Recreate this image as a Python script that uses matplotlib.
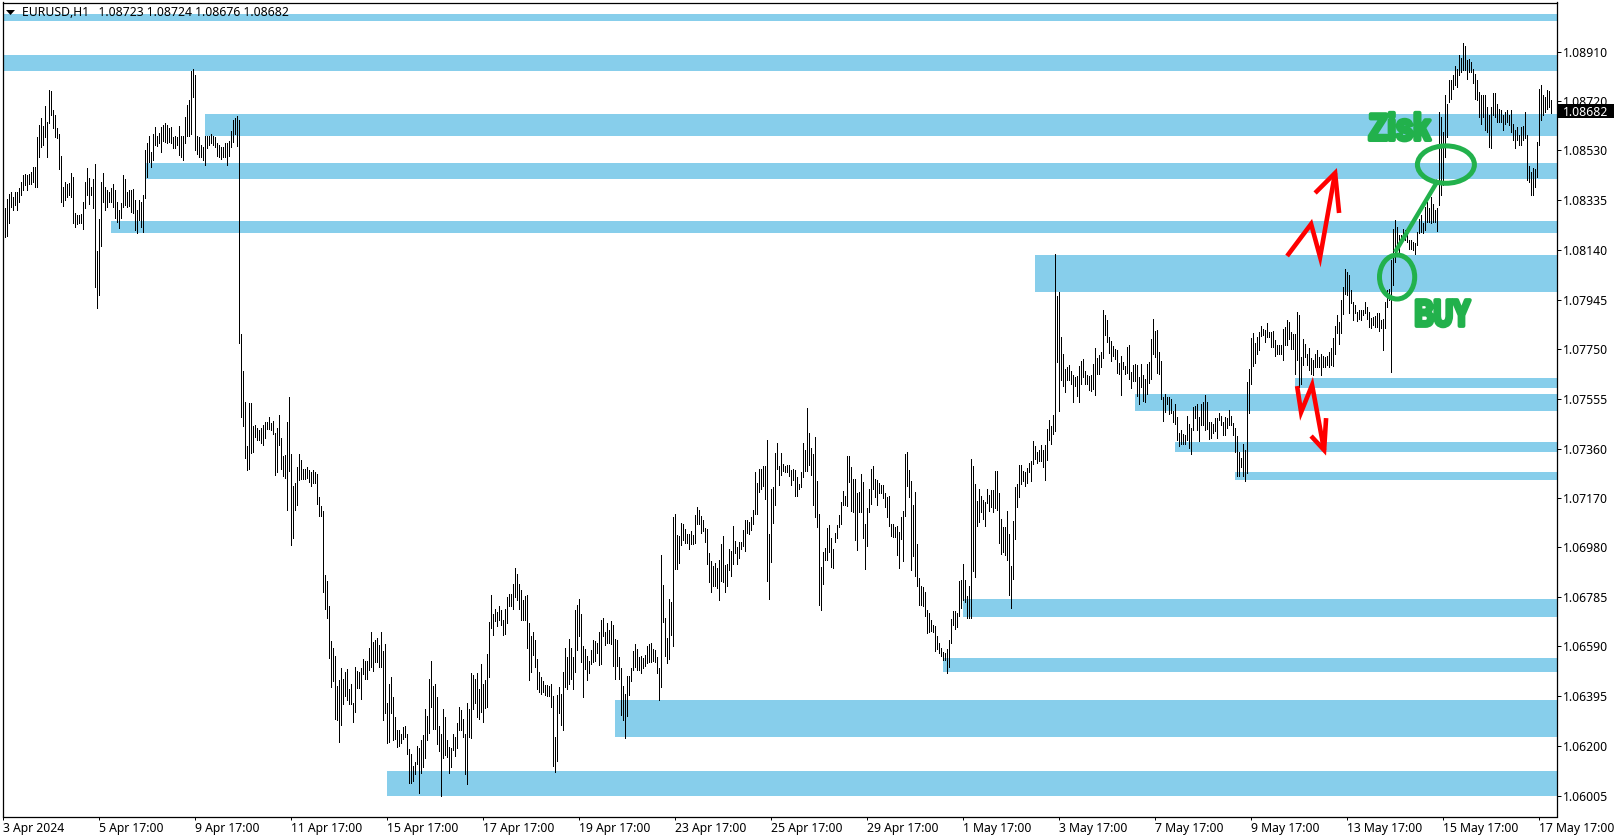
import numpy as np
import matplotlib
matplotlib.use("Agg")
import matplotlib.pyplot as plt
from matplotlib.patches import Ellipse, Rectangle, Polygon
from matplotlib.transforms import Affine2D
import matplotlib.patheffects as pe

BASE = 1.06005
CURRENT = 1.08682
TITLE = "EURUSD,H1   1.08723 1.08724 1.08676 1.08682"

# hourly bar highs and lows, in pips above BASE
high_a = [223,229.6,233.4,235.4,236,234,236,236,237.4,240,242.6,243,242.6,243,243.9,245.8,245.8,257.5,262,265,261.7,269.5,263.4,275.8,275.5,268,266,261,258.8,250,238,240,239,239.5,243.5,242,227.6,227,227,227.3,232,240,245.5,241.6,238,241,247,213,225.6,240,243.6,238,236.7,236,237.4,239,236.7,232,229,231.8,242.6,241,236,236.7,236.7,237,232.8,229,233,232,234.8,252.3,255,258,251.7,258.6,261.4,258,259,261.4,262,263,262,261,261.4,257.5,257.8,257.5,261.7,257.8,257.8,265.3,269.9,272,283.3,284,281.6,258,257.5,254.5,253.6,258,258,258,258.8,258,257.5,255,254.3,253.6,253.6,255,255,256,259.7,264.3,265,265.6,264]
low_a = [187,218.5,219,224,230,229,231,229,232,235,236.7,238.7,236.7,239,239.3,240,238,238,249.7,253.6,254.3,257.5,249.7,263,266,261,257.5,257,245,232,230.5,233,234,234.8,234,224,222.4,223.4,223.7,224,221.7,229.6,234.8,231.5,234.8,229.6,199,190.5,195.7,214.8,232,229,230,232,232,230,226,224.3,222,226,230,231,230,230.5,228,227.6,221,220,225,222.4,220.4,233.5,242,247.8,245.8,248.4,254.3,254,255,251.7,256,255.6,255,255.6,255,253,253,254.3,250.4,249.7,248.4,255,258,258,258.8,273,252.3,251,249.7,249.7,248.4,246.5,253,254.3,255,254.3,253.6,250,249.7,249,249.7,249.7,246.5,250,253.6,255.6,258.8,254,177]
high_b = [180.5,166,153.9,136.8,153.5,153.5,144.6,145,143.7,143,144,145,146,146.3,148,145.6,146.6,141.7,143.7,148.9,139.8,132.9,133.3,146.3,155.8,133.7,121,122.5,128.7,133.7,131.3,128,128,128.7,127.4,126.8,127.4,126.5,125.9,116.8,113.4,111.4,86.4,84]
low_b = [148,144.6,132,127.4,127.8,134,134.6,140.4,139,139,137.8,137,140,143.4,143.4,143,141.5,125.5,126.8,137,127.8,125,124.4,112,127,98,100.7,112,113.8,123.5,124,124,124,124.4,122.6,121.3,122.2,122.2,114,109.6,109.6,79.9,73.3,69.5]
high_c = [74.2,60.6,58,54.7,43,45.3,50,45.7,48.5,49.6,41.8,43.8,36.6,50.5,48.8,48.5,50,53.8,52.8,53,58,64,60.3,61,61.7,59,64,56.7,59.6,36.6,44,46.4,38.6,31,26,26,24.5,26.9,27.6,24.5,18.3,16.7,11.8,13.2,19.6,19,22,23.9,34,31.3,46,52.8,43,43.8,38.6,27.4,24.5,34,30.8,21.9,19.3,18.7,24.2,23,28.8,34.7,33.6,30,24.2,36.6,34,48,47.5,45.7,48,41.8,51.8,43.8,45.3,55.5,67.9,78.5,71,73,71.8,74.2,72.7,69,73,78,79,79,83,89.3,87,83,80.5,76.6,78.3,78.8,67.5,62.5,64,61,53.8,48.5,46.6,45,43.6,43.4,43,43.8,39.2,23,39.5,42.7,39.9,48.5,58,54.4,61.3,58,54.4,72.7,74.6,77,71,58.6,57.4,54.7,53,57,61,60.7,60,64,68.8,69.5,64,67.5,65,68.4,66.8,61.3,61,54.4,50,43,39.9,46.9,47,50,56.7,59.6,57.7,54.4]
low_c = [54,42.7,45,30,29.7,21.3,27.8,36,39,37.8,36,36,29,33,42.3,42.3,38,47.7,46,45.7,49.2,50.5,49,52.5,52.5,50.5,50.5,29.7,32.6,20.9,21.3,32.6,21.9,22.3,19.3,19.7,20.9,22.3,23.2,16.7,5.2,5.2,6,8.6,12.5,1.3,9.2,11.5,14.9,21.9,24.8,34.9,26.2,26.2,20.3,17.7,0,14.9,16,15.4,9,11.5,18,15.7,18.7,25.8,25.8,23.2,8.6,4.7,23,22.7,34,36.6,31,30,33,29,34.5,35,46.6,65.6,63,68.5,66.4,69,66.8,63,63.3,67.7,74.4,74.2,73.3,78,76.8,73.3,68.8,68.8,68.8,58,45.3,48.6,55,50.5,41.8,40.8,39.9,40.8,39.5,39.2,39,35,12,9.5,13.8,32.6,28,25.8,42.7,41.8,43.8,45.7,41.8,48.6,57.3,62.6,52.5,38.8,49.6,45.3,48.3,51.6,52.5,52.8,56,51.4,51.8,62.5,59,60,60,59.6,51,46,51,46,31.7,29.7,22.8,31.4,39.5,45,49.2,50.5,49.2,49.2]
high_d = [54.7,54,55,58.6,59.3,60,57.7,57.3,54.5,50.2,94.2,82.5,69.8,62,76.9,75.7,109,110.4,102.2,101.6,106.9,106.5,104.2,102.4,102.4,103.7,102.2,109.8,113,112,109.4,107.8,104.6,104.3,95.2,91.8,89.9,91,89.2,92.2,98.5,101.6,90.3,90.9,96.5,95.9,105.5,99.6,97.2,99.4,99.4,103.9,107.8,107.8,107.2,109,112,126.5,122.5,128,127.8,128.9,128.9,139,102.6,120,120.6,133.9,137.8,128.9,133.9,129.7,128.9,129.3,129.3,127.6,128,127.4,124.8,122,126.6,137.8,135.4,151.8,142,136.2,133.6,140.4,123,110.4,89.6,95.3,96.8,104.6,106.1,100.9,96.5,102.9,105.9,109.8,115,119.2,117.2,133,132.8,128.7,123.9,123.9,118.5,118.8,126,122.8,106.3,112.7,120,128,128.9,124.1,123.5,122.2,121.5,121.5,118.3,117,117.2,106.5,106.5,105.2,105.5,103.3,109,111.4,133.6,134.3,127.4,123,113.7,118.8,98.5,85.4,82,81.8,79.7,72.7,71.4,68.8,66.8,66.4,62.5,59.7,58.1,56.4,56,57.5,61,69.4,72.3,72.3,71.4,84]
low_d = [48.2,50,51,51.9,52.3,52.5,52.9,52.5,48.2,37.8,42.8,68,54.7,52.1,53.6,62.9,58.6,88.7,88.7,91.2,98,100,99,99,96.5,98.7,98.7,99,106.3,106.3,102.9,103.7,99.4,90.9,83.6,79.7,82,82,81.2,76.6,84.2,83.8,79.7,82,88.3,86,90.7,95.2,90.9,93.1,96.5,97.7,95.9,103,102.4,104,106.3,110.2,110.2,118.9,120.2,121.1,116,84,77,91.4,106.8,113.8,128,121.5,125.5,127,126.6,126.8,125,121.5,123.7,117.3,117.3,120,120.6,124.5,127,127,129.3,125.4,113.8,109,105.2,74.8,72.8,82.9,92.2,92.2,95.5,89.6,89,99.4,100.7,105,106.3,113.7,113.7,113.3,122.8,111.5,111,100,96.1,111,111,100.9,88.7,97.8,111,114.3,120.2,117,113.8,118.5,118.3,116.3,113,109,105.5,101.6,101.3,101.3,94.2,89.2,100.4,91.8,109.4,121.1,117,88.3,93.9,86.1,82.1,74.6,74.6,74.3,70.5,63.8,64.2,64.6,64.2,56.8,57.7,55.8,54.7,53.2,53.4,48.2,50.6,60,66.8,65.5,66.2,70.4]
high_e = [84.5,90.7,84.4,78.2,82,131.7,129,121.9,115.3,120,117.2,115.9,114.9,120,117.6,119.6,119.6,127,127,118.3,108.1,105,105,111.4,102.4,89.9,107.5,120.6,121.9,129.3,129.3,127,126.5,128.4,130.3,130.9,138.7,136.9,134.3,135.2,137.2,135.2,137.2,143.4,146.9,144.6,148.9,211.7,195.3,196.8,179.3,172.7,166.8,167.6,168.4,166,164.5,163.7,164.1,168,170,170.7,166,164.5,164,164.5,168.8,175,171.1,172.3,173.5,189.9,187.9,186,179.3,177.8,175.8,174.6,174.2,169.2,171.9,169.6,168,175.4,176.2,165.7,168.4,168.8,168.4,163.7,168.8,164.5,162.9,168.8,169.6,178.5,186.4,181.7,182,173.5,170,155.9,157,155.9,155.9,155.1,150.4,153.2,148.1,141.8,143,141.4,141,148.5,145.4,143.8,152,152.4,153.2,148.1,153.2,153.9,156.7,153.9,146.1,146.1,145.4,147.7,147.7,149.6,148.5,146.1,148,147.7,150.8]
low_e = [73.6,76.6,76,69.7,69.7,69.7,88,85.7,105.6,107.2,111.1,108.3,105.6,114.6,111.4,113.1,111.1,112.7,111.8,99,94.6,95.5,94.2,92.2,78.6,73.6,84.8,100.4,113.1,117,121.9,123.1,121.1,122.2,126.5,123.1,129.7,131.7,130.3,130.9,130.9,128.6,123.5,131.3,139.1,137.5,141.4,142.6,169.6,150.4,162.5,160.2,157.8,162.5,162.5,161,154,160.2,156.3,154,161.2,163.7,161,161,158.6,158.2,159,156.7,164.9,164.9,167.7,171.1,180.1,177.4,173,170,171.9,170.7,165.3,164.9,156.7,166.8,164.9,165.3,162.9,159.4,162.1,162.1,156.3,153.2,159.8,154.3,154,157,161.4,162.9,172.7,171.5,165.3,164.9,155.1,146.5,150,153.2,149.3,149.7,146.1,145.4,139.1,136.8,137.5,137.5,137.5,139.1,136,133.6,143,147.7,143,138.7,145,145,143,143.4,139.5,139.9,141.8,142.6,139.9,146.9,145,141,141,143.8,145]
high_f = [148.5,145.6,143.7,140.8,134.6,132.3,137.5,135.2,161.6,166.7,179,180.8,177.1,179.2,181.4,183.6,182.5,182,185,181.4,181.4,181.7,178.2,176.2,176.2,176.2,182.5,183.4,186,185.3,181.2,180.4,180.5,189.2,187.9,171.6,178.4,176.6,172.9,174.9,171,170.3,172.9,174.2,171.4,172.7,171.9,171.6,171.9,173.6,174.9,178.8,183.6,187.9,185.3,193.8,198.7,205.8,204.6,203.5,197.9,193.1,191.8,189.2,189.9,190.1,189.9,193.1,191.2,189.2,186.6,187.3,187.7,188.6,188.6,186,186.4,193.1,197.9,198.1]
low_f = [145,141,134.6,125,125,128.7,125,123.2,126.1,149.5,161.2,168,169.3,172.7,174.3,179.7,180.1,177.5,179.2,179.2,175.3,175.6,171.9,172.7,172.7,172.7,170.3,176.2,176.2,178.4,174.5,174.5,165.1,170.3,159.9,161.2,168.4,171.4,168.4,166.4,164.9,164.5,167.7,167.7,167.5,164.5,167.7,167.7,168.4,167.7,168.4,168,172.7,180.8,176.5,180.8,188.3,196.1,195.7,188.6,192.5,186,188.6,185.7,186.4,186,187.9,188.6,186.4,183.1,182.7,184,183.1,183.1,181.7,182.7,174.3,182.7,191.2,194]
high_g = [209.4,221.7,225,222.4,219.1,219.1,221.7,221,219.1,217.2,217.2,216.5,215.9,220.4,225.6,227,223.7,230.2,232.2,229.6,234.1,231.5,228.9,229.6,267.3,265.3,259.5,273.8,270.5,279.7,279.7,281.6,285.1,284.2,289.4,288.5,294,292.9,287.5,288.1,286.8,284.2,282,279.7,275.1,273.8,273.8,273.8,269.2,266,269.2,274.5,274.5,270.5,268.6,267.9,266,267.3,267.9,266,267.9,262.7,260.1,261.4,258.2,261.4,261.7,267.3,258.2,246.1,243.9,245.2,244.8,255.6,276.4,277.7,273.8,273.2,275.8,275.5,271.9]
low_g = [165.8,199.6,208.7,213.3,212.6,216.5,217.2,217.2,216.5,213.9,213.9,213.3,211.7,215.2,219.8,220.4,219.8,221.1,224.3,224.3,223.7,224.3,224.3,220.8,230.9,234.8,238.7,249.7,257.5,271.2,272.5,276.4,277.7,277,281.6,282.9,283.6,283.6,280.3,282.9,282.9,278.4,272.5,271.9,265.3,262.7,265.3,260.1,259.5,253.6,253,266,265.3,263.4,263.4,263.4,260.1,262.7,263.4,262.1,259.5,256.2,253.2,256.2,254.3,254.5,256.2,256.9,240.6,240,234.8,234.8,238,241.9,254.3,264,266,267.3,268.6,269.2,266.7]

high_pips = high_a + high_b + high_c + high_d + high_e + high_f + high_g
low_pips = low_a + low_b + low_c + low_d + low_e + low_f + low_g

# price zones: first bar, low and high in pips above BASE
zone_start = [0, 0, 100.8, 71.4, 53.8, 515.8, 645.8, 565.8, 585.8, 615.8, 479.8, 469.8, 305.8, 191.8]
zone_low = [302.7, 283.2, 257.8, 241, 220, 196.9, 159.4, 150.4, 134.4, 123.5, 70, 48.5, 23.2, 0.1]
zone_high = [305.5, 289.5, 266.4, 247.3, 224.6, 211.4, 163.3, 157.1, 138.3, 126.6, 77, 54, 37.6, 9.9]

y_ticks = [1.08910,1.08720,1.08530,1.08335,1.08140,1.07945,1.07750,1.07555,1.07360,1.07170,1.06980,1.06785,1.06590,1.06395,1.06200,1.06005]
x_tick_bars = list(range(0, 769, 48))
x_labels = ["3 Apr 2024","5 Apr 17:00","9 Apr 17:00","11 Apr 17:00","15 Apr 17:00","17 Apr 17:00","19 Apr 17:00","23 Apr 17:00","25 Apr 17:00","29 Apr 17:00","1 May 17:00","3 May 17:00","7 May 17:00","9 May 17:00","13 May 17:00","15 May 17:00","17 May 17:00"]

# drawn annotations, as (bar, pips)
arrow_up = [(641.9,211),(653.9,223.5),(658.4,210.6),(665.9,243.4)]
arrow_up_head = [(655.9,235.6),(665.9,243.4),(667.9,227.8)]
arrow_down = [(646.9,160.2),(648.9,150),(654.4,160.6),(660.4,135.2)]
arrow_down_head = [(653.9,140.7),(660.4,135.2),(661.4,147.7)]
link = [(695.9,212.5),(717.4,240.6)]

W, H = 1620, 840
ZONE = "#87CEEB"
GREEN = "#22B14C"
FONT = "Noto Sans"
FS = 8.8
plt.rcParams["font.family"] = FONT

def price(p):
    return BASE + np.asarray(p, dtype=float) / 1e4

fig = plt.figure(figsize=(W/100, H/100), dpi=100, facecolor="white")
L, R, T, B = 2.5, 1556.5, 2.5, 816.5
ax = fig.add_axes([L/W, 1-B/H, (R-L)/W, (B-T)/H])
ax.set_xlim(-0.4, 776.6)
ax.set_ylim(price(-7.89), price(310))

for s, lo, hi in zip(zone_start, zone_low, zone_high):
    s0 = -0.4 if s == 0 else s
    ax.add_patch(Rectangle((s0, price(lo)), 776.6 - s0, price(hi) - price(lo), fc=ZONE, ec="none", antialiased=False, zorder=1))

ax.vlines(np.arange(len(high_pips)), price(low_pips), price(high_pips), colors="black", linewidth=0.72, antialiased=False, zorder=2)

def poly(points, color, lw):
    xs = [a for a, b in points]
    ys = price([b for a, b in points])
    ax.plot(xs, ys, color=color, lw=lw, solid_joinstyle="miter", solid_capstyle="butt", zorder=4)

poly(arrow_up, "#FF0000", 3.3)
poly(arrow_up_head, "#FF0000", 3.3)
poly(arrow_down, "#FF0000", 3.3)
poly(arrow_down_head, "#FF0000", 3.3)
poly(link, GREEN, 3.2)
ax.add_patch(Ellipse((696.9, price(202.8)), 17.6, 17.2/1e4, fc="none", ec=GREEN, lw=3.6, zorder=4))
ax.add_patch(Ellipse((721.3, price(246.7)), 28.5, 14.6/1e4, fc="none", ec=GREEN, lw=3.6, zorder=4))

class Squeezed(pe.AbstractPathEffect):
    """Draws a text condensed about a display x, heavier by an outline."""
    def __init__(self, cx, sx, lw_px):
        super().__init__()
        self.cx, self.sx, self.lw_px = cx, sx, lw_px
    def draw_path(self, renderer, gc, tpath, affine, rgbFace=None):
        squeeze = Affine2D().translate(-self.cx, 0).scale(self.sx, 1).translate(self.cx, 0)
        gc0 = renderer.new_gc()
        gc0.copy_properties(gc)
        gc0.set_foreground(GREEN)
        gc0.set_linewidth(self.lw_px * 72 / 100)
        renderer.draw_path(gc0, tpath, affine + squeeze, rgbFace)
        gc0.restore()

def label(bar, pips, text, sx):
    cx = ax.transData.transform((bar, price(pips)))[0]
    ax.text(bar, price(pips), text, color=GREEN, fontsize=27, fontweight="bold",
            family="Liberation Sans", ha="center", va="baseline", zorder=5,
            path_effects=[Squeezed(cx, sx, 4.0)])

label(698.1, 256.3, "Zisk", 0.82)
label(719.6, 183.7, "BUY", 0.70)

ax.yaxis.tick_right()
ax.set_yticks(y_ticks)
ax.set_yticklabels([f"{v:.5f}" for v in y_ticks], fontsize=FS, color="black")
ax.tick_params(axis="y", length=3.2, width=0.72, pad=1.3, color="black")
ax.set_xticks(x_tick_bars)
ax.set_xticklabels(x_labels, fontsize=FS, color="black", ha="left")
ax.tick_params(axis="x", length=2.4, width=0.72, pad=1.8, color="black")
for sp in ax.spines.values():
    sp.set_linewidth(0.9)
    sp.set_color("black")
    sp.set_zorder(6)

fig.add_artist(Rectangle((1558/W, 1-118/H), 56/W, 14/H, transform=fig.transFigure, fc="black", ec="none", zorder=10))
fig.text(1563/W, 1-112/H, f"{CURRENT:.5f}", color="white", fontsize=FS, va="center", ha="left", zorder=11)

fig.add_artist(Polygon([(6/W, 1-10/H), (15/W, 1-10/H), (10.5/W, 1-15/H)], closed=True, transform=fig.transFigure, fc="black", ec="none", zorder=10))
fig.text(21.5/W, 1-12.3/H, TITLE, color="black", fontsize=FS, va="center", ha="left", zorder=11)

fig.savefig("out.png", dpi=100)
